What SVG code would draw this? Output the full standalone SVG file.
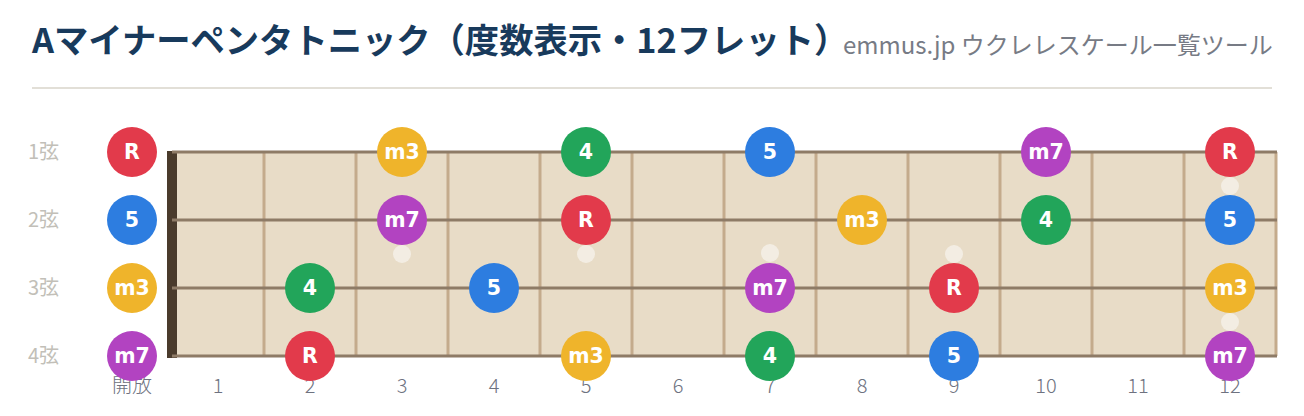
<svg xmlns="http://www.w3.org/2000/svg" width="1304" height="416" viewBox="0 0 1304 416">
<style>
.title{font-family:"Noto Sans CJK JP","Noto Sans",sans-serif;font-weight:700;font-size:34.3px;fill:#183a5c}
.sub{font-family:"Noto Sans CJK JP","Noto Sans",sans-serif;font-size:24px;fill:#777b85}
.str{font-family:"Noto Sans CJK JP","Noto Sans",sans-serif;font-weight:400;font-size:20px;fill:#c2bfb8}
.fn{font-family:"Noto Sans CJK JP","Noto Sans",sans-serif;font-weight:300;font-size:20px;fill:#6e7280;text-anchor:middle}
.fret{stroke:#c4ab8c;stroke-width:3}
.string{stroke:#8e7b66;stroke-width:3}
.inlay{fill:#f3ede3}
.dl{font-family:"DejaVu Sans",sans-serif;font-weight:700;font-size:20.5px;fill:#ffffff;text-anchor:middle}
.R{fill:#e23a4b}.P5{fill:#2d7de0}.m3{fill:#efb42b}.P4{fill:#22a55a}.m7{fill:#b243c1}
</style>
<rect width="1304" height="416" fill="#ffffff"/>
<g id="header">
<text class="title" x="32" y="53">Aマイナーペンタトニック（度数表示・12フレット）</text>
<text class="sub" x="843" y="54">emmus.jp ウクレレスケール一覧ツール</text>
<line x1="32" y1="88" x2="1272" y2="88" stroke="#e2dfd7" stroke-width="2"/>
</g>
<g id="string-labels">
<text class="str" x="28" y="159">1弦</text>
<text class="str" x="28" y="227">2弦</text>
<text class="str" x="28" y="295">3弦</text>
<text class="str" x="28" y="363">4弦</text>
</g>
<g id="fretboard">
<rect x="170" y="152" width="1107" height="204" fill="#e8dcc7"/>
<g id="frets">
<line class="fret" x1="264" y1="152" x2="264" y2="356"/>
<line class="fret" x1="356" y1="152" x2="356" y2="356"/>
<line class="fret" x1="448" y1="152" x2="448" y2="356"/>
<line class="fret" x1="540" y1="152" x2="540" y2="356"/>
<line class="fret" x1="632" y1="152" x2="632" y2="356"/>
<line class="fret" x1="724" y1="152" x2="724" y2="356"/>
<line class="fret" x1="816" y1="152" x2="816" y2="356"/>
<line class="fret" x1="908" y1="152" x2="908" y2="356"/>
<line class="fret" x1="1000" y1="152" x2="1000" y2="356"/>
<line class="fret" x1="1092" y1="152" x2="1092" y2="356"/>
<line class="fret" x1="1184" y1="152" x2="1184" y2="356"/>
<line class="fret" x1="1276" y1="152" x2="1276" y2="356"/>
</g>
<g id="inlays">
<circle class="inlay" cx="402" cy="254" r="9"/>
<circle class="inlay" cx="586" cy="254" r="9"/>
<circle class="inlay" cx="770" cy="253" r="9"/>
<circle class="inlay" cx="954" cy="254" r="9"/>
<circle class="inlay" cx="1230" cy="186" r="9"/>
<circle class="inlay" cx="1230" cy="322" r="9"/>
</g>
<rect id="nut" x="167" y="151" width="10" height="207" fill="#4a3b2c"/>
<g id="strings">
<line class="string" x1="172" y1="152" x2="1277" y2="152"/>
<line class="string" x1="172" y1="220" x2="1277" y2="220"/>
<line class="string" x1="172" y1="288" x2="1277" y2="288"/>
<line class="string" x1="172" y1="356" x2="1277" y2="356"/>
</g>
</g>
<g id="fret-numbers">
<text class="fn" x="132" y="393">開放</text>
<text class="fn" x="218" y="393">1</text>
<text class="fn" x="310" y="393">2</text>
<text class="fn" x="402" y="393">3</text>
<text class="fn" x="494" y="393">4</text>
<text class="fn" x="586" y="393">5</text>
<text class="fn" x="678" y="393">6</text>
<text class="fn" x="770" y="393">7</text>
<text class="fn" x="862" y="393">8</text>
<text class="fn" x="954" y="393">9</text>
<text class="fn" x="1046" y="393">10</text>
<text class="fn" x="1138" y="393">11</text>
<text class="fn" x="1230" y="393">12</text>
</g>
<g id="notes">
<g id="s1-f0"><circle class="R" cx="132" cy="152" r="25"/><text class="dl" x="132" y="159">R</text></g>
<g id="s1-f3"><circle class="m3" cx="402" cy="152" r="25"/><text class="dl" x="402" y="159">m3</text></g>
<g id="s1-f5"><circle class="P4" cx="586" cy="152" r="25"/><text class="dl" x="586" y="159">4</text></g>
<g id="s1-f7"><circle class="P5" cx="770" cy="152" r="25"/><text class="dl" x="770" y="159">5</text></g>
<g id="s1-f10"><circle class="m7" cx="1046" cy="152" r="25"/><text class="dl" x="1046" y="159">m7</text></g>
<g id="s1-f12"><circle class="R" cx="1230" cy="152" r="25"/><text class="dl" x="1230" y="159">R</text></g>
<g id="s2-f0"><circle class="P5" cx="132" cy="220" r="25"/><text class="dl" x="132" y="227">5</text></g>
<g id="s2-f3"><circle class="m7" cx="402" cy="220" r="25"/><text class="dl" x="402" y="227">m7</text></g>
<g id="s2-f5"><circle class="R" cx="586" cy="220" r="25"/><text class="dl" x="586" y="227">R</text></g>
<g id="s2-f8"><circle class="m3" cx="862" cy="220" r="25"/><text class="dl" x="862" y="227">m3</text></g>
<g id="s2-f10"><circle class="P4" cx="1046" cy="220" r="25"/><text class="dl" x="1046" y="227">4</text></g>
<g id="s2-f12"><circle class="P5" cx="1230" cy="220" r="25"/><text class="dl" x="1230" y="227">5</text></g>
<g id="s3-f0"><circle class="m3" cx="132" cy="288" r="25"/><text class="dl" x="132" y="295">m3</text></g>
<g id="s3-f2"><circle class="P4" cx="310" cy="288" r="25"/><text class="dl" x="310" y="295">4</text></g>
<g id="s3-f4"><circle class="P5" cx="494" cy="288" r="25"/><text class="dl" x="494" y="295">5</text></g>
<g id="s3-f7"><circle class="m7" cx="770" cy="288" r="25"/><text class="dl" x="770" y="295">m7</text></g>
<g id="s3-f9"><circle class="R" cx="954" cy="288" r="25"/><text class="dl" x="954" y="295">R</text></g>
<g id="s3-f12"><circle class="m3" cx="1230" cy="288" r="25"/><text class="dl" x="1230" y="295">m3</text></g>
<g id="s4-f0"><circle class="m7" cx="132" cy="356" r="25"/><text class="dl" x="132" y="363">m7</text></g>
<g id="s4-f2"><circle class="R" cx="310" cy="356" r="25"/><text class="dl" x="310" y="363">R</text></g>
<g id="s4-f5"><circle class="m3" cx="586" cy="356" r="25"/><text class="dl" x="586" y="363">m3</text></g>
<g id="s4-f7"><circle class="P4" cx="770" cy="356" r="25"/><text class="dl" x="770" y="363">4</text></g>
<g id="s4-f9"><circle class="P5" cx="954" cy="356" r="25"/><text class="dl" x="954" y="363">5</text></g>
<g id="s4-f12"><circle class="m7" cx="1230" cy="356" r="25"/><text class="dl" x="1230" y="363">m7</text></g>
</g>
</svg>
